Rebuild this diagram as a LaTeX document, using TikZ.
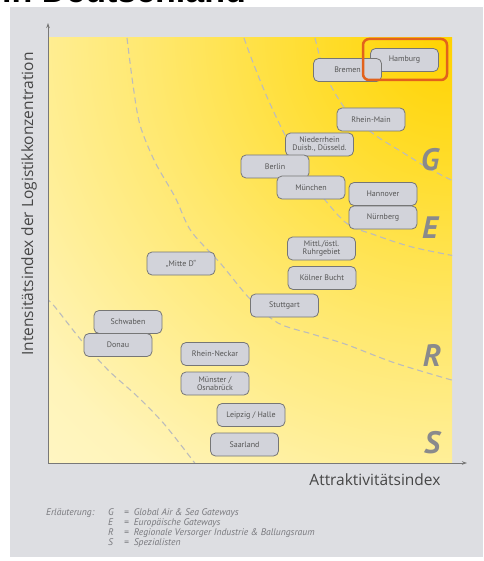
\documentclass[tikz,border=0pt]{standalone}
\usepackage{fontspec}
\setmainfont{PT Sans}
\newfontfamily\titlefont{Liberation Sans}
\newfontfamily\axisfont{Open Sans}
\usetikzlibrary{arrows.meta}
\definecolor{panelgray}{RGB}{221,222,226}
\definecolor{axisgray}{RGB}{120,120,120}
\definecolor{boxfill}{RGB}{210,211,218}
\definecolor{boxborder}{RGB}{118,118,118}
\definecolor{boxtext}{RGB}{85,85,85}
\definecolor{hlorange}{RGB}{226,98,28}
\definecolor{lettergray}{RGB}{138,138,140}
\definecolor{labelgray}{RGB}{70,70,70}
\definecolor{legendgray}{RGB}{120,120,125}
\definecolor{arcgray}{RGB}{188,188,188}
\definecolor{ya}{RGB}{255,210,0}
\definecolor{yb}{RGB}{255,220,40}
\definecolor{yc}{RGB}{255,232,110}
\definecolor{yd}{RGB}{255,244,185}
\definecolor{ye}{RGB}{255,251,225}
\pgfdeclareradialshading{plotrad}{\pgfpoint{0bp}{0bp}}{color(0bp)=(ya); color(5bp)=(yb); color(12.5bp)=(yc); color(21.7bp)=(yd); color(33.3bp)=(ye); color(46.7bp)=(white); color(50bp)=(white)}
\tikzset{
  city/.style={draw=boxborder, fill=boxfill, rounded corners=5pt, line width=0.8pt,
    minimum width=68pt, minimum height=23pt, inner sep=1pt,
    font=\fontsize{8}{8.5}\selectfont, text=boxtext, align=center},
  region/.style={font=\bfseries\itshape\fontsize{31}{31}\selectfont, text=lettergray},
  zonearc/.style={draw=arcgray, line width=1.1pt, dash pattern=on 6pt off 4pt},
  legend/.style={anchor=base west, font=\itshape\fontsize{9.6}{10}\selectfont, text=legendgray, inner sep=0pt},
  axislabel/.style={font=\axisfont\fontsize{15.5}{15.5}\selectfont, text=labelgray}
}
\begin{document}
\begin{tikzpicture}[x=1pt,y=-1pt]
\useasboundingbox (0,0) rectangle (483,561);
\fill[white] (0,0) rectangle (483,561);
\node[name=title, anchor=base west, inner sep=0pt, font=\titlefont\bfseries\fontsize{34}{34}\selectfont] at (2,3) {in Deutschland};
\fill[panelgray] (10,7) rectangle (483,557);
\begin{scope}
  \clip (48,38) rectangle (452,463);
  \shade[shading=plotrad] (452,38) circle[radius=600pt];
  \draw[zonearc] plot[smooth] coordinates {(315,38) (323,68) (332,88) (348,112) (375,135) (402,152) (428,168) (455,182)};
  \draw[zonearc] plot[smooth] coordinates {(244,38) (252,60) (267,97) (285,135) (310,180) (345,222) (375,235) (412,247) (455,256)};
  \draw[zonearc] plot[smooth] coordinates {(127,38) (133,85) (140,125) (155,162) (175,197) (191,231) (221,264) (250,299) (278,323) (312,334) (345,344) (395,363) (455,381)};
  \draw[zonearc] plot[smooth] coordinates {(46,298) (55,307) (81,340) (108,370) (138,397) (165,425) (197,466)};
\end{scope}
\coordinate (O) at (48,463);
\coordinate (ytip) at (48,23);
\coordinate (xtip) at (467,463);
\draw[axisgray, line width=0.9pt, -{Stealth[length=5pt,width=3.5pt]}] (O) -- (ytip);
\draw[axisgray, line width=0.9pt, -{Stealth[length=5pt,width=3.5pt]}] (O) -- (xtip);
\node[axislabel, rotate=90, name=ylab] at (29,204) {Intensitätsindex der Logistikkonzentration};
\node[axislabel, anchor=east, name=xlab] at (444,480) {Attraktivitätsindex};
\node[region, name=G] at (430,160) {G};
\node[region, name=E] at (430,228) {E};
\node[region, name=R] at (432,355) {R};
\node[region, name=S] at (432,443) {S};
\node[city, name=hamburg] at (404.5,60) {Hamburg};
\node[city, name=bremen] at (347.5,70) {Bremen};
\node[draw=hlorange, line width=2.5pt, rounded corners=6pt, minimum width=84pt, minimum height=41pt, name=hl] at (405,59.5) {};
\node[city, name=rheinmain] at (371,119.5) {Rhein-Main};
\node[city, name=niederrhein] at (319.5,144.5) {Niederrhein\\Duisb., Düsseld.};
\node[city, name=berlin] at (275,166.5) {Berlin};
\node[city, name=muenchen] at (311,187.5) {München};
\node[city, name=hannover] at (383,194) {Hannover};
\node[city, name=nuernberg] at (383,217.5) {Nürnberg};
\node[city, name=ruhr] at (321.5,248.5) {Mittl./östl.\\Ruhrgebiet};
\node[city, name=koeln] at (322,278) {Kölner Bucht};
\node[city, name=mitte] at (181,263.5) {„Mitte D“};
\node[city, name=stuttgart] at (284.5,305.5) {Stuttgart};
\node[city, name=schwaben] at (128,322) {Schwaben};
\node[city, name=donau] at (118,345) {Donau};
\node[city, name=rheinneckar] at (215,354) {Rhein-Neckar};
\node[city, name=muenster] at (215,383.5) {Münster /\\Osnabrück};
\node[city, name=leipzig] at (251,415) {Leipzig / Halle};
\node[city, name=saarland] at (244.5,444.5) {Saarland};
\node[legend, name=leg0] at (46,515) {Erläuterung:};
\node[legend, name=legG] at (108,515) {\makebox[16pt][l]{G}=\hspace{5pt}Global Air \& Sea Gateways};
\node[legend, name=legE] at (108,525) {\makebox[16pt][l]{E}=\hspace{5pt}Europäische Gateways};
\node[legend, name=legR] at (108,535) {\makebox[16pt][l]{R}=\hspace{5pt}Regionale Versorger Industrie \& Ballungsraum};
\node[legend, name=legS] at (108,545) {\makebox[16pt][l]{S}=\hspace{5pt}Spezialisten};
\end{tikzpicture}
\end{document}
